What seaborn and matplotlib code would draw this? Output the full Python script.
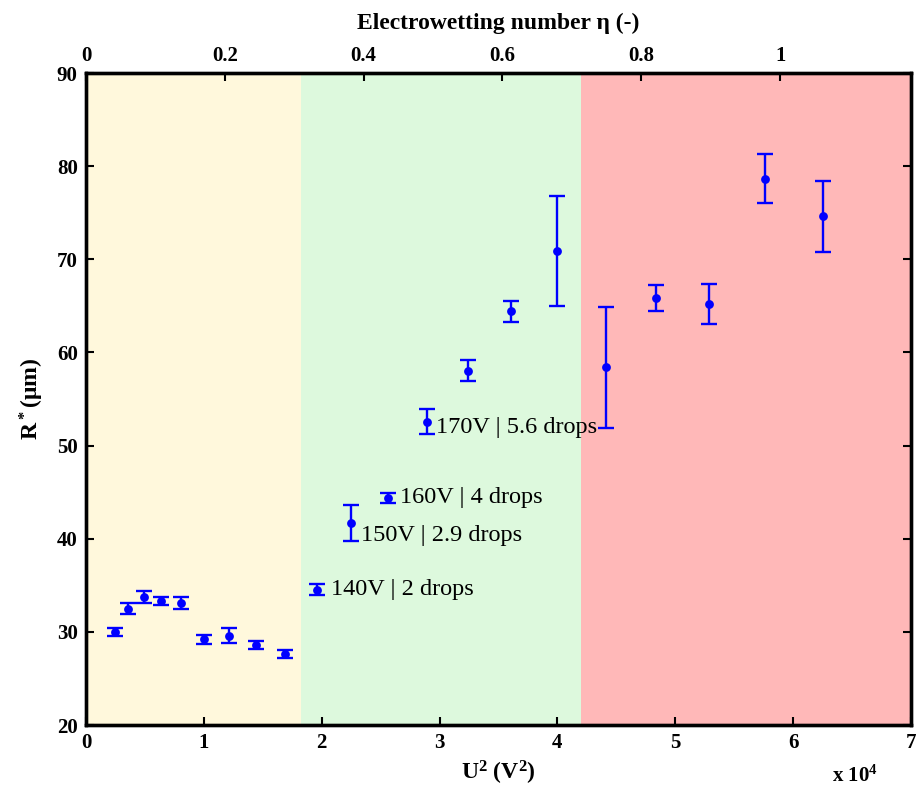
import matplotlib
matplotlib.use("Agg")
import matplotlib.pyplot as plt
import seaborn as sns
import pandas as pd

# voltages (V), measured R* (um) and its error
voltage = [50, 60, 70, 80, 90, 100, 110, 120, 130, 140, 150,
           160, 170, 180, 190, 200, 210, 220, 230, 240, 250]
r_star = [30.0, 32.5, 33.75, 33.3, 33.1, 29.2, 29.6, 28.6, 27.6, 34.55, 41.7,
          44.4, 52.55, 58.05, 64.4, 70.9, 58.4, 65.8, 65.2, 78.65, 74.6]
r_err = [0.45, 0.55, 0.6, 0.45, 0.6, 0.45, 0.8, 0.45, 0.45, 0.55, 1.9,
         0.55, 1.35, 1.1, 1.15, 5.9, 6.5, 1.4, 2.1, 2.65, 3.8]

# regimes along U^2 (V^2)
region_edges = [0, 1.82e4, 4.2e4, 7e4]
region_colors = ["#FFF8DC", "#DDF9DD", "#FFB8B8"]

# U^2 that gives electrowetting number eta = 1
eta_one = 5.89e4
eta_ticks = [0, 0.2, 0.4, 0.6, 0.8, 1]
eta_labels = ["0", "0.2", "0.4", "0.6", "0.8", "1"]

notes = {140: "140V | 2 drops", 150: "150V | 2.9 drops",
         160: "160V | 4 drops", 170: "170V | 5.6 drops"}
note_offsets = {140: (10, 0), 150: (7, -9), 160: (9, 0), 170: (7, -4)}

df = pd.DataFrame({"U2": [v ** 2 for v in voltage], "R": r_star, "err": r_err})

sns.set_theme(style="ticks", rc={"axes.edgecolor": "black", "xtick.color": "black",
                                 "ytick.color": "black", "text.color": "black",
                                 "axes.labelcolor": "black"})
plt.rcParams["font.family"] = ["Liberation Serif", "DejaVu Serif"]
plt.rcParams["mathtext.fontset"] = "custom"
plt.rcParams["mathtext.rm"] = "Liberation Serif:bold"
plt.rcParams["mathtext.bf"] = "Liberation Serif:bold"
plt.rcParams["mathtext.default"] = "bf"

fig = plt.figure(figsize=(9.22, 7.91), dpi=100)
ax = fig.add_axes([0.0933, 0.0834, 0.8947, 0.8243])

for i, c in enumerate(region_colors):
    ax.axvspan(region_edges[i], region_edges[i + 1], color=c, lw=0, zorder=0)

ax.errorbar(df["U2"], df["R"], yerr=df["err"], fmt="none", ecolor="#0000FF",
            elinewidth=1.7, capsize=6, capthick=1.7, zorder=3)
sns.scatterplot(data=df, x="U2", y="R", color="#0000FF", s=40, linewidth=0,
                ax=ax, zorder=4)

for v, txt in notes.items():
    i = voltage.index(v)
    ax.annotate(txt, (v ** 2, r_star[i]), xytext=note_offsets[v],
                textcoords="offset points", ha="left", va="center",
                fontsize=17.5, color="black", zorder=5)

ax.set_xlim(0, 7e4)
ax.set_ylim(20, 90)
ax.set_xticks([i * 1e4 for i in range(8)])
ax.set_xticklabels([str(i) for i in range(8)])
ax.set_yticks(range(20, 91, 10))
ax.tick_params(direction="in", length=6, width=1.5, labelsize=15, pad=6,
               right=True)
for lab in ax.get_xticklabels() + ax.get_yticklabels():
    lab.set_fontweight("bold")
ax.set_xlabel(r"U$^2$ (V$^2$)", fontsize=17, fontweight="bold", labelpad=4)
ax.set_ylabel(r"R$^*$($\mu$m)", fontsize=17, fontweight="bold", labelpad=8)
for sp in ax.spines.values():
    sp.set_linewidth(2.4)
    sp.set_visible(True)

top = ax.twiny()
top.set_xlim(0, 7e4 / eta_one)
top.set_xticks(eta_ticks)
top.set_xticklabels(eta_labels)
top.tick_params(direction="in", length=6, width=1.5, labelsize=15, pad=5)
for lab in top.get_xticklabels():
    lab.set_fontweight("bold")
top.set_xlabel("Electrowetting number η (-)", fontsize=17, fontweight="bold",
               labelpad=12)
for sp in top.spines.values():
    sp.set_linewidth(2.4)

fig.text(855 / 922, 1 - 776 / 791, r"x 10$^4$", fontsize=15, fontweight="bold",
         ha="center", va="center")

plt.savefig("out.png", dpi=100)
